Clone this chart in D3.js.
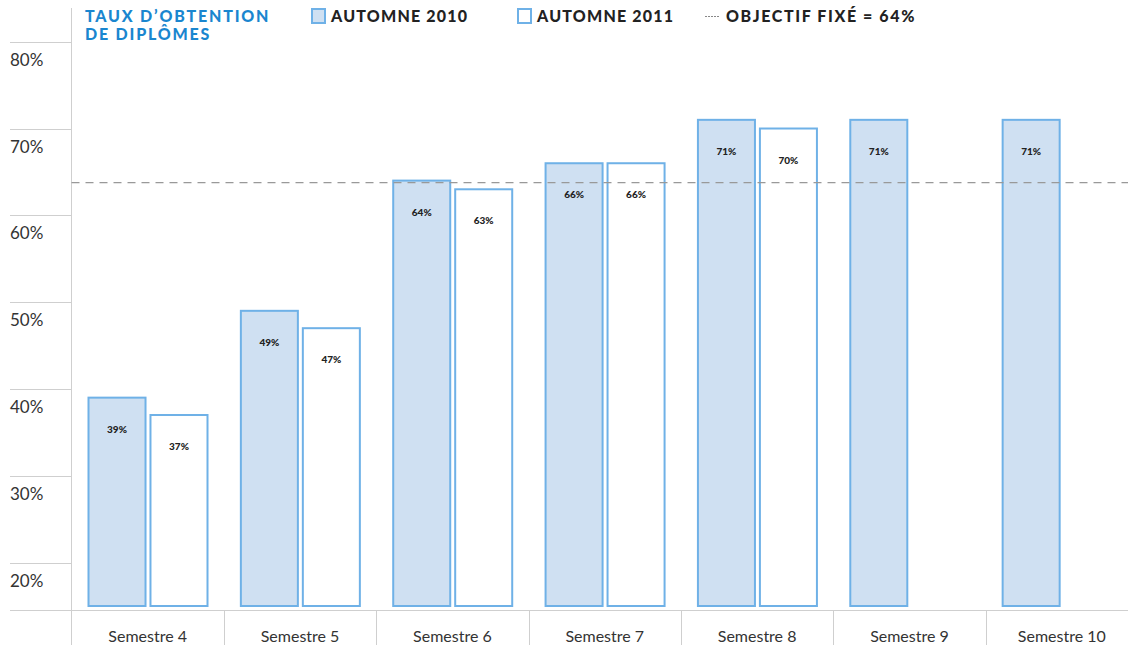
<!DOCTYPE html>
<meta charset="utf-8">
<script src="https://d3js.org/d3.v7.min.js"></script>
<style>
  body { margin: 0; background: #fff; }
  svg { font-family: Lato, "Open Sans", sans-serif; }
</style>
<div id="dataVis"></div>
<script>
// chart data
var categories = ["Semestre 4", "Semestre 5", "Semestre 6", "Semestre 7", "Semestre 8", "Semestre 9", "Semestre 10"];
var series = ["AUTOMNE 2010", "AUTOMNE 2011"];
var autumn2010 = [39, 49, 64, 66, 71, 71, 71];
var autumn2011 = [37, 47, 63, 66, 70, null, null];
var target = 64;
var yTicks = [20, 30, 40, 50, 60, 70, 80];

var width = 1128, height = 648;

var svg = d3.select('#dataVis')
  .append('svg')
    .attr('width', width)
    .attr('height', height);

var x = d3.scaleBand()
  .domain(categories)
  .range([71.5, 1138])
  .padding(0);

var x1 = d3.scaleBand()
  .domain(series)
  .range([17, 136])
  .paddingInner(0.08);

var y = d3.scaleLinear()
  .domain([15, 80])
  .range([606, 41.7]);

// short gridlines + labels on the left
var grid = svg.append('g');
grid.selectAll('line')
  .data(yTicks)
  .enter().append('line')
    .attr('x1', 10).attr('x2', 71.5)
    .attr('y1', d => Math.round(y(d)) + 0.5)
    .attr('y2', d => Math.round(y(d)) + 0.5)
    .attr('stroke', '#cfcfcf');
grid.selectAll('text')
  .data(yTicks)
  .enter().append('text')
    .attr('x', 10)
    .attr('y', d => y(d) + 24)
    .attr('font-size', 17)
    .attr('fill', '#333')
    .text(d => d + '%');

// axis lines
svg.append('line')
  .attr('x1', 71.5).attr('x2', 71.5)
  .attr('y1', 8).attr('y2', 645)
  .attr('stroke', '#cfcfcf');
svg.append('line')
  .attr('x1', 10).attr('x2', width)
  .attr('y1', 610.5).attr('y2', 610.5)
  .attr('stroke', '#cfcfcf');

// category separators and labels
svg.append('g').selectAll('line')
  .data(categories.slice(1))
  .enter().append('line')
    .attr('x1', d => Math.round(x(d)) + 0.5)
    .attr('x2', d => Math.round(x(d)) + 0.5)
    .attr('y1', 610).attr('y2', 645)
    .attr('stroke', '#cfcfcf');
svg.append('g').selectAll('text')
  .data(categories)
  .enter().append('text')
    .attr('x', d => x(d) + x.bandwidth() / 2)
    .attr('y', 642)
    .attr('text-anchor', 'middle')
    .attr('font-size', 16)
    .attr('fill', '#333')
    .text(d => d);

// bars
var rows = categories.map((c, i) => ({
  cat: c,
  values: [
    {key: series[0], value: autumn2010[i]},
    {key: series[1], value: autumn2011[i]}
  ].filter(d => d.value != null)
}));

var groups = svg.append('g').selectAll('g')
  .data(rows)
  .enter().append('g')
    .attr('transform', d => 'translate(' + x(d.cat) + ',0)');

groups.selectAll('rect')
  .data(d => d.values)
  .enter().append('rect')
    .attr('x', d => x1(d.key))
    .attr('y', d => y(d.value))
    .attr('width', x1.bandwidth())
    .attr('height', d => y(15) - y(d.value))
    .attr('fill', d => d.key == series[0] ? '#cfe0f2' : '#fff')
    .attr('stroke', '#6fb1e7')
    .attr('stroke-width', 2);

groups.selectAll('text')
  .data(d => d.values)
  .enter().append('text')
    .attr('x', d => x1(d.key) + x1.bandwidth() / 2)
    .attr('y', d => y(d.value) + 35)
    .attr('text-anchor', 'middle')
    .attr('font-size', 10)
    .attr('font-weight', 900)
    .attr('fill', '#222')
    .text(d => d.value + '%');

// target line
svg.append('line')
  .attr('x1', 71.5).attr('x2', width)
  .attr('y1', y(target) + 2).attr('y2', y(target) + 2)
  .attr('stroke', '#999')
  .attr('stroke-width', 1.3)
  .attr('stroke-dasharray', '8,6');

// title and legend
var title = svg.append('text')
  .attr('x', 85)
  .attr('font-size', 16)
  .attr('font-weight', 900)
  .attr('fill', '#1a86cf')
  .attr('letter-spacing', 1.8);
title.append('tspan').attr('x', 85).attr('y', 22).text("TAUX D\u2019OBTENTION");
title.append('tspan').attr('x', 85).attr('y', 40).text("DE DIPL\u00d4MES");

var legend = svg.append('g');
[{x: 312, fill: '#cfe0f2', label: series[0]}, {x: 518, fill: '#fff', label: series[1]}].forEach(l => {
  legend.append('rect')
    .attr('x', l.x).attr('y', 9)
    .attr('width', 13).attr('height', 14)
    .attr('fill', l.fill)
    .attr('stroke', '#6fb1e7')
    .attr('stroke-width', 2);
  legend.append('text')
    .attr('x', l.x + 19).attr('y', 22)
    .attr('font-size', 16)
    .attr('font-weight', 900)
    .attr('letter-spacing', 1.2)
    .attr('fill', '#222')
    .text(l.label);
});
legend.append('line')
  .attr('x1', 705).attr('x2', 720)
  .attr('y1', 16.5).attr('y2', 16.5)
  .attr('stroke', '#888')
  .attr('stroke-dasharray', '2,1');
legend.append('text')
  .attr('x', 726).attr('y', 22)
  .attr('font-size', 16)
  .attr('font-weight', 900)
  .attr('letter-spacing', 1.6)
  .attr('fill', '#222')
  .text('OBJECTIF FIX\u00c9 = ' + target + '%');
</script>
